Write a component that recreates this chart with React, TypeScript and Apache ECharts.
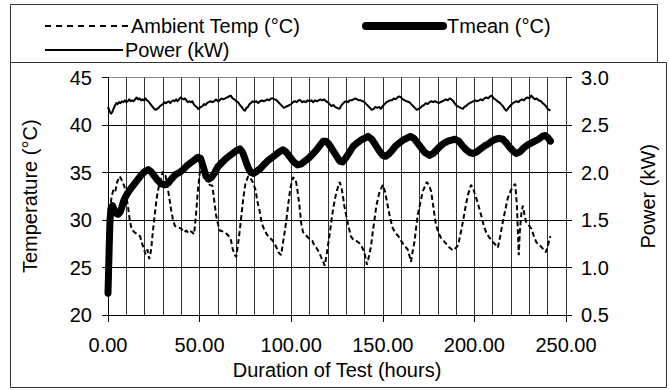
import React, { useEffect, useRef } from "react";
import * as echarts from "echarts";

const xTickValues = [0, 50, 100, 150, 200, 250];
const leftTicks = [20, 25, 30, 35, 40, 45];
const rightTicks = [0.5, 1.0, 1.5, 2.0, 2.5, 3.0];

// Ambient Temp (°C): [hours, °C]
const ambientData: [number, number][] = [
  [1, 31.0], [2, 32.5], [3, 33.2], [4, 33.0], [5, 34.0], [6.4, 34.6], [7.5, 34.2], [9, 33.5], [10, 32.5],
  [11, 31.3], [12, 29.8], [13, 29.0], [14.5, 28.7], [16, 28.5], [17.5, 28.3], [18.5, 27.6], [19.5, 27.0],
  [20.5, 26.4], [21.5, 26.9], [22.5, 25.9], [23.5, 26.8], [24.5, 28.8], [25.5, 30.5], [26.5, 32.2],
  [27.5, 33.3], [28.5, 34.2], [30, 35.1], [31.5, 34.6], [32.5, 33.5], [33.5, 32.3], [34.5, 31.0],
  [35.5, 30.0], [36.5, 29.4], [38, 29.2], [40, 29.1], [41.5, 28.7], [42.7, 28.9], [44, 28.6], [45.5, 28.8],
  [47, 28.5], [48, 30.5], [49, 33.0], [50, 34.8], [51, 35.8], [52, 35.5], [53, 34.6], [54, 34.0],
  [55.5, 33.7], [57, 33.6], [58, 32.0], [59, 30.5], [60, 29.6], [61, 28.9], [62.5, 28.8], [64, 28.7],
  [65.5, 28.4], [67, 28.0], [68, 27.0], [69, 26.4], [70, 26.1], [71, 27.5], [72, 29.0], [73, 30.8],
  [74, 32.5], [75, 33.8], [76.5, 34.6], [77.5, 34.5], [79, 34.0], [80.5, 33.2], [81.5, 32.0], [82.7, 31.0],
  [84, 29.6], [85.5, 28.9], [87, 28.4], [88.5, 28.1], [90, 27.8], [91.5, 27.3], [93, 26.6], [94.5, 26.3],
  [95.5, 27.6], [96.5, 28.8], [97.5, 30.2], [98.5, 31.8], [99.5, 33.3], [101, 34.5], [102.5, 34.2],
  [103.5, 33.0], [104.5, 31.5], [105.5, 29.6], [106.5, 28.7], [108, 28.4], [110, 28.0], [111.5, 27.8],
  [112.7, 27.3], [114, 27.0], [115.5, 26.5], [116.5, 26.0], [117.5, 25.6], [118.3, 25.2], [119.2, 26.2],
  [120, 27.2], [121, 28.5], [122, 30.0], [123, 31.3], [124.5, 32.8], [126.4, 34.0], [127.5, 33.4],
  [129, 31.5], [130, 30.5], [131, 29.6], [132.5, 28.3], [134, 27.9], [135.5, 27.8], [137, 27.6],
  [138.5, 27.2], [140, 26.6], [141.3, 25.3], [142.5, 26.2], [143.6, 27.3], [144.5, 28.7], [145.5, 30.1],
  [146.5, 31.5], [148, 32.8], [150, 33.7], [151.2, 33.0], [152.7, 31.5], [154, 30.2], [155.5, 29.1],
  [157, 28.6], [158.5, 28.3], [160, 27.8], [161.8, 27.3], [163.6, 26.9], [164.6, 26.2], [165.4, 25.6],
  [166.3, 26.7], [167.3, 27.7], [168.2, 29.2], [169, 30.5], [170.5, 31.8], [171.8, 33.0], [174, 34.0],
  [175.2, 33.7], [176.4, 33.0], [177.5, 31.5], [179, 29.5], [180.5, 28.6], [181.8, 28.1], [183.7, 27.7],
  [185.5, 27.3], [186.4, 27.1], [188.3, 26.8], [189.5, 27.0], [191, 27.3], [192.3, 28.4], [193.7, 29.8],
  [195, 31.2], [196.4, 32.6], [198.2, 33.7], [199.5, 33.2], [201, 32.3], [202.4, 31.4], [203.7, 30.5],
  [205, 29.5], [206.4, 28.7], [208, 28.2], [210, 27.7], [211.5, 27.4], [212.8, 27.1], [214, 28.2],
  [215.5, 29.8], [216.8, 31.0], [218.2, 32.3], [219.6, 33.0], [221, 33.5], [222.3, 33.8], [223.2, 31.5],
  [223.8, 28.5], [224.2, 26.3], [224.8, 28.8], [225.6, 30.6], [226.4, 31.5], [227.3, 30.6], [228.2, 29.8],
  [229.5, 29.5], [231, 29.1], [232.3, 28.4], [233.7, 27.7], [235, 27.4], [236.4, 27.2], [237.7, 26.9],
  [239, 26.6], [240, 27.2], [241, 28.0], [241.5, 28.3],
];

// Tmean (°C): [hours, °C]
const tmeanData: [number, number][] = [
  [0, 22.3], [0.3, 24.5], [0.7, 27.5], [1.1, 30.0], [1.6, 31.2], [2.5, 31.5], [3.5, 31.0], [4.5, 30.7],
  [5.5, 30.6], [6.5, 30.8], [7.5, 31.3], [8.5, 32.0], [10, 32.6], [12, 33.2], [14, 33.7], [16, 34.2],
  [18, 34.7], [20, 35.1], [22, 35.3], [23.5, 35.1], [25, 34.7], [27, 34.2], [29, 33.8], [31, 33.7],
  [33, 33.9], [35, 34.4], [37, 34.8], [39, 35.0], [41, 35.3], [43, 35.7], [45, 36.0], [47, 36.3],
  [49, 36.6], [50.5, 36.5], [52, 35.6], [53.5, 34.6], [55, 34.3], [56.5, 34.5], [58, 34.9], [60, 35.6],
  [62, 36.0], [64, 36.4], [66, 36.7], [68, 37.0], [70, 37.3], [72, 37.5], [73.5, 37.1], [75, 36.3],
  [76.5, 35.5], [78, 35.0], [79.5, 34.9], [81, 35.1], [83, 35.4], [85, 35.8], [87, 36.2], [89, 36.5],
  [91, 36.8], [93, 37.1], [95.5, 37.4], [97.5, 37.1], [99.5, 36.6], [101.5, 36.1], [103.5, 35.8],
  [105.5, 35.9], [107.5, 36.2], [109.5, 36.5], [111.5, 36.9], [113.5, 37.3], [115.5, 37.8], [117.5, 38.3],
  [119, 38.3], [120.5, 38.0], [122.5, 37.4], [124.5, 36.8], [126.5, 36.2], [128, 36.1], [130, 36.6],
  [132, 37.2], [134, 37.8], [136, 38.1], [138, 38.4], [140, 38.6], [142, 38.8], [144, 38.5], [146, 37.9],
  [148, 37.3], [150, 36.8], [151.5, 36.7], [153, 36.9], [155, 37.3], [157, 37.8], [159, 38.1], [161, 38.4],
  [163, 38.6], [165, 38.8], [167, 38.6], [169, 38.1], [171, 37.6], [173, 37.1], [175.5, 36.8],
  [177.5, 37.0], [179.5, 37.4], [181.5, 37.8], [183.5, 38.1], [185.5, 38.3], [187.5, 38.4], [189.5, 38.5],
  [191.5, 38.3], [193.5, 37.8], [195.5, 37.4], [197.5, 37.1], [199.5, 37.0], [201.5, 37.2], [203.5, 37.5],
  [205.5, 37.8], [207.5, 38.0], [209.5, 38.3], [211.5, 38.5], [213.5, 38.6], [215.5, 38.5], [217.5, 38.1],
  [219.5, 37.6], [221.5, 37.2], [223, 37.0], [225, 37.2], [227, 37.6], [229, 37.9], [231, 38.1],
  [233, 38.3], [235, 38.5], [237, 38.8], [238.5, 38.9], [240, 38.7], [241.5, 38.3],
];

// Power (kW): [hours, kW]
const powerData: [number, number][] = [
  [0, 2.69], [0.6, 2.66], [1.2, 2.63], [1.8, 2.62], [2.4, 2.64], [3, 2.67], [3.7, 2.70], [4.5, 2.73],
  [5.2, 2.72], [6, 2.74], [6.8, 2.73], [7.6, 2.75], [8.4, 2.74], [9.2, 2.76], [10, 2.74], [10.8, 2.75],
  [11.6, 2.77], [12.4, 2.75], [13.2, 2.76], [14, 2.75], [14.8, 2.77], [15.6, 2.79], [16.4, 2.77],
  [17.2, 2.78], [18, 2.76], [18.8, 2.77], [19.6, 2.76], [20.4, 2.78], [21.2, 2.76], [22, 2.75],
  [22.8, 2.73], [23.6, 2.71], [24.4, 2.69], [25.2, 2.67], [26, 2.66], [26.8, 2.67], [27.6, 2.68],
  [28.4, 2.70], [29.2, 2.71], [30, 2.72], [30.8, 2.74], [31.6, 2.73], [32.4, 2.74], [33.2, 2.75],
  [34, 2.73], [34.8, 2.75], [35.6, 2.76], [36.4, 2.75], [37.2, 2.77], [38, 2.75], [38.8, 2.77],
  [39.6, 2.79], [40.4, 2.78], [41.2, 2.77], [42, 2.78], [42.8, 2.76], [43.6, 2.74], [44.4, 2.75],
  [45.2, 2.74], [46, 2.75], [46.8, 2.72], [47.6, 2.70], [48.4, 2.69], [49.2, 2.67], [50, 2.68],
  [50.8, 2.69], [51.6, 2.70], [52.4, 2.72], [53.2, 2.71], [54, 2.73], [55, 2.74], [56, 2.75], [57, 2.74],
  [58, 2.75], [59, 2.77], [60, 2.75], [61, 2.76], [62, 2.78], [63, 2.77], [64, 2.78], [65, 2.79],
  [66, 2.80], [67, 2.81], [68, 2.78], [69, 2.77], [70, 2.75], [71, 2.74], [72, 2.71], [73, 2.69],
  [74, 2.66], [74.8, 2.65], [75.6, 2.68], [76.4, 2.69], [77.2, 2.72], [78, 2.73], [79, 2.75], [80, 2.74],
  [81, 2.75], [82, 2.73], [83, 2.75], [84, 2.76], [85, 2.75], [86, 2.76], [87, 2.77], [88, 2.76],
  [89, 2.78], [90, 2.78], [91, 2.77], [92, 2.76], [93, 2.74], [94, 2.72], [95, 2.70], [96, 2.68],
  [97, 2.69], [98, 2.70], [99, 2.71], [100, 2.72], [101, 2.74], [102, 2.75], [103, 2.74], [104, 2.76],
  [105, 2.76], [106, 2.74], [107, 2.75], [108, 2.74], [109, 2.76], [110, 2.75], [111, 2.76], [112, 2.74],
  [113, 2.76], [114, 2.75], [115, 2.76], [116, 2.77], [117, 2.76], [118, 2.77], [119, 2.75], [120, 2.74],
  [121, 2.72], [122, 2.70], [123, 2.71], [124, 2.69], [125, 2.68], [126.4, 2.67], [127.2, 2.70],
  [128, 2.72], [129, 2.74], [130, 2.75], [131, 2.74], [132, 2.76], [133, 2.76], [134, 2.77], [135, 2.78],
  [136, 2.77], [137, 2.76], [138, 2.76], [139, 2.75], [140, 2.74], [141, 2.72], [142, 2.70], [143, 2.68],
  [144, 2.66], [145, 2.67], [146, 2.69], [147, 2.68], [148, 2.69], [149, 2.67], [150, 2.70], [151, 2.72],
  [152, 2.74], [153, 2.75], [154, 2.76], [155, 2.76], [156, 2.78], [157, 2.77], [158, 2.79], [159, 2.80],
  [160, 2.79], [161, 2.77], [162, 2.76], [163, 2.75], [164.5, 2.74], [165.5, 2.72], [166.5, 2.70],
  [167.5, 2.68], [168.5, 2.66], [169.5, 2.67], [170.5, 2.68], [171.5, 2.70], [172.5, 2.71], [173.5, 2.73],
  [174.5, 2.72], [175.5, 2.74], [176.5, 2.75], [177.5, 2.74], [178.5, 2.75], [179.5, 2.74], [180.5, 2.73],
  [181.5, 2.74], [182.5, 2.75], [183.5, 2.76], [184.5, 2.77], [185.5, 2.76], [186.5, 2.78], [187.5, 2.77],
  [188.5, 2.75], [189.5, 2.72], [190.5, 2.70], [191.5, 2.69], [192.5, 2.68], [193.7, 2.67], [194.5, 2.69],
  [195.5, 2.70], [196.5, 2.72], [197.5, 2.73], [198.5, 2.74], [199.5, 2.75], [200.5, 2.76], [201.5, 2.75],
  [202.5, 2.76], [203.5, 2.77], [204.5, 2.76], [205.5, 2.78], [206.5, 2.79], [207.5, 2.78], [208.5, 2.80],
  [209.5, 2.81], [210.5, 2.78], [211.5, 2.77], [212.5, 2.75], [213.5, 2.74], [214.5, 2.72], [215.5, 2.70],
  [216.5, 2.67], [217.3, 2.65], [218.2, 2.67], [219, 2.69], [220, 2.71], [221, 2.73], [222, 2.74],
  [223, 2.75], [224, 2.74], [225, 2.76], [226, 2.77], [227, 2.76], [228, 2.78], [229, 2.79], [230, 2.78],
  [231, 2.81], [232, 2.79], [233, 2.77], [234, 2.78], [235, 2.76], [236.4, 2.75], [237.2, 2.73],
  [238, 2.72], [239, 2.70], [240, 2.67], [240.8, 2.66], [241.5, 2.65],
];

const AMBIENT = "Ambient Temp (°C)";
const TMEAN = "Tmean (°C)";
const POWER = "Power (kW)";

export default function App() {
  const ref = useRef<HTMLDivElement>(null);

  useEffect(() => {
    document.body.style.margin = "0";
    const chart = echarts.init(ref.current as HTMLDivElement, null, { renderer: "svg" });
    const font = "'Liberation Sans', Arial, sans-serif";
    const txt = { fontFamily: font, fontSize: 20, color: "#000" };
    const legendText = (x: number, y: number, text: string) => ({
      type: "text",
      silent: true,
      x,
      y,
      style: { text, fill: "#000", font: `20px ${font}`, textVerticalAlign: "middle", verticalAlign: "middle" },
    });
    const row1 = 26;
    const row2 = 50;

    chart.setOption({
      animation: false,
      backgroundColor: "#fff",
      textStyle: { fontFamily: font },
      graphic: [
        {
          type: "rect",
          silent: true,
          shape: { x: 10.5, y: 4.5, width: 647, height: 58 },
          style: { fill: "none", stroke: "#333", lineWidth: 1 },
        },
        {
          type: "rect",
          silent: true,
          shape: { x: 10.5, y: 62.5, width: 656, height: 325 },
          style: { fill: "none", stroke: "#333", lineWidth: 1 },
        },
        {
          type: "line",
          silent: true,
          shape: { x1: 45, y1: row1, x2: 129, y2: row1 },
          style: { stroke: "#000", lineWidth: 2, lineDash: [6, 5] },
        },
        legendText(131, row1, AMBIENT),
        {
          type: "line",
          silent: true,
          shape: { x1: 366, y1: row1, x2: 443, y2: row1 },
          style: { stroke: "#000", lineWidth: 8, lineCap: "round" },
        },
        legendText(447, row1, TMEAN),
        {
          type: "line",
          silent: true,
          shape: { x1: 45, y1: row2, x2: 123, y2: row2 },
          style: { stroke: "#000", lineWidth: 2 },
        },
        legendText(125, row2, POWER),
      ],
      grid: { left: 108, right: 103, top: 77.5, bottom: 75, containLabel: false },
      xAxis: {
        type: "value",
        min: xTickValues[0],
        max: xTickValues[xTickValues.length - 1],
        interval: 50,
        name: "Duration of Test (hours)",
        nameLocation: "middle",
        nameGap: 43,
        nameTextStyle: txt,
        axisLine: { show: true, lineStyle: { color: "#000", width: 1 } },
        axisTick: { show: true, length: 7, lineStyle: { color: "#000" } },
        axisLabel: { ...txt, margin: 20, formatter: (v: number) => v.toFixed(2) },
        splitLine: { show: true, lineStyle: { color: "#333", width: 1 } },
        minorTick: { show: false, splitNumber: 5 },
        minorSplitLine: { show: true, lineStyle: { color: "#333", width: 1 } },
      },
      yAxis: [
        {
          type: "value",
          position: "left",
          min: leftTicks[0],
          max: leftTicks[leftTicks.length - 1],
          interval: 5,
          name: "Temperature (°C)",
          nameLocation: "middle",
          nameRotate: 90,
          nameGap: 68,
          nameTextStyle: txt,
          axisLine: { show: true, lineStyle: { color: "#000", width: 1 } },
          axisTick: { show: true, length: 6, lineStyle: { color: "#000" } },
          axisLabel: { ...txt, margin: 16 },
          splitLine: {
            show: true,
            lineStyle: { color: ["#000", "#000", "#000", "#000", "#000", "#888"], width: 1 },
          },
        },
        {
          type: "value",
          position: "right",
          min: rightTicks[0],
          max: rightTicks[rightTicks.length - 1],
          interval: 0.5,
          name: POWER,
          nameLocation: "middle",
          nameRotate: 90,
          nameGap: 72,
          nameTextStyle: txt,
          axisLine: { show: true, lineStyle: { color: "#333", width: 1 } },
          axisTick: { show: true, length: 6, lineStyle: { color: "#000" } },
          axisLabel: { ...txt, margin: 15, formatter: (v: number) => v.toFixed(1) },
          splitLine: { show: false },
        },
      ],
      series: [
        {
          name: POWER,
          type: "line",
          yAxisIndex: 1,
          data: powerData,
          symbol: "none",
          showSymbol: false,
          silent: true,
          z: 2,
          lineStyle: { color: "#000", width: 2, join: "round" },
          itemStyle: { color: "#000" },
        },
        {
          name: TMEAN,
          type: "line",
          yAxisIndex: 0,
          data: tmeanData,
          symbol: "none",
          showSymbol: false,
          silent: true,
          z: 3,
          lineStyle: { color: "#000", width: 7, cap: "round", join: "round" },
          itemStyle: { color: "#000" },
        },
        {
          name: AMBIENT,
          type: "line",
          yAxisIndex: 0,
          data: ambientData,
          symbol: "none",
          showSymbol: false,
          silent: true,
          z: 4,
          lineStyle: { color: "#000", width: 2, type: [5, 3] },
          itemStyle: { color: "#000" },
        },
      ],
    });

    return () => chart.dispose();
  }, []);

  return <div ref={ref} style={{ width: 669, height: 390, background: "#fff" }} />;
}
